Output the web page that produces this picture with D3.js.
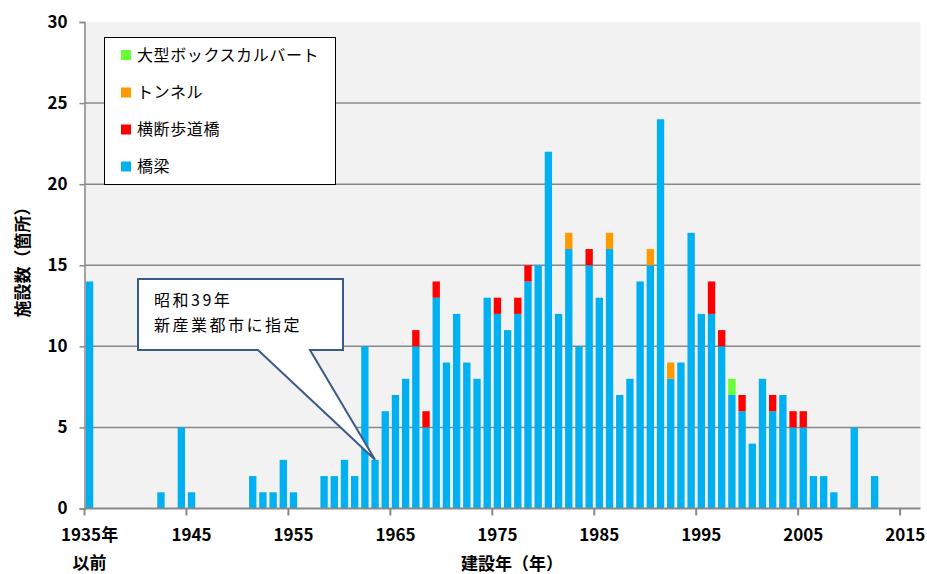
<!DOCTYPE html>
<html>
<head>
<meta charset="utf-8">
<script src="https://cdn.jsdelivr.net/npm/d3@7/dist/d3.min.js"></script>
<style>
  html, body { margin: 0; padding: 0; background: #ffffff; }
  svg { display: block; font-family: "Noto Sans CJK JP", "Noto Sans", sans-serif; }
</style>
</head>
<body>
<svg id="chart" width="927" height="574"></svg>
<script>
// Construction year categories (first one stands for "1935 and earlier")
const years = d3.range(1935, 2017);

// Facilities built per year, by type
const bridges = [
  14, 0, 0, 0, 0, 0, 0, 1, 0, 5,
  1, 0, 0, 0, 0, 0, 2, 1, 1, 3,
  1, 0, 0, 2, 2, 3, 2, 10, 3, 6,
  7, 8, 10, 5, 13, 9, 12, 9, 8, 13,
  12, 11, 12, 14, 15, 22, 12, 16, 10, 15,
  13, 16, 7, 8, 14, 15, 24, 8, 9, 17,
  12, 12, 10, 7, 6, 4, 8, 6, 7, 5,
  5, 2, 2, 1, 0, 5, 0, 2, 0, 0,
  0, 0
];
const footbridges = [
  0, 0, 0, 0, 0, 0, 0, 0, 0, 0,
  0, 0, 0, 0, 0, 0, 0, 0, 0, 0,
  0, 0, 0, 0, 0, 0, 0, 0, 0, 0,
  0, 0, 1, 1, 1, 0, 0, 0, 0, 0,
  1, 0, 1, 1, 0, 0, 0, 0, 0, 1,
  0, 0, 0, 0, 0, 0, 0, 0, 0, 0,
  0, 2, 1, 0, 1, 0, 0, 1, 0, 1,
  1, 0, 0, 0, 0, 0, 0, 0, 0, 0,
  0, 0
];
const tunnels = [
  0, 0, 0, 0, 0, 0, 0, 0, 0, 0,
  0, 0, 0, 0, 0, 0, 0, 0, 0, 0,
  0, 0, 0, 0, 0, 0, 0, 0, 0, 0,
  0, 0, 0, 0, 0, 0, 0, 0, 0, 0,
  0, 0, 0, 0, 0, 0, 0, 1, 0, 0,
  0, 1, 0, 0, 0, 1, 0, 1, 0, 0,
  0, 0, 0, 0, 0, 0, 0, 0, 0, 0,
  0, 0, 0, 0, 0, 0, 0, 0, 0, 0,
  0, 0
];
const culverts = [
  0, 0, 0, 0, 0, 0, 0, 0, 0, 0,
  0, 0, 0, 0, 0, 0, 0, 0, 0, 0,
  0, 0, 0, 0, 0, 0, 0, 0, 0, 0,
  0, 0, 0, 0, 0, 0, 0, 0, 0, 0,
  0, 0, 0, 0, 0, 0, 0, 0, 0, 0,
  0, 0, 0, 0, 0, 0, 0, 0, 0, 0,
  0, 0, 0, 1, 0, 0, 0, 0, 0, 0,
  0, 0, 0, 0, 0, 0, 0, 0, 0, 0,
  0, 0
];

const seriesKeys = ["橋梁", "横断歩道橋", "トンネル", "大型ボックスカルバート"];
const seriesColors = ["#00b0f0", "#ff0000", "#ff9900", "#66ff33"];
const seriesValues = [bridges, footbridges, tunnels, culverts];
const legendOrder = ["大型ボックスカルバート", "トンネル", "横断歩道橋", "橋梁"];

const yTicks = [0, 5, 10, 15, 20, 25, 30];
const xTickYears = [1935, 1945, 1955, 1965, 1975, 1985, 1995, 2005, 2015];

const calloutLines = ["昭和39年", "新産業都市に指定"];
const calloutYear = 1963;

const svg = d3.select("#chart");
const plot = { left: 84.5, right: 920.5, top: 22, bottom: 508.5 };

const x = d3.scaleBand().domain(years).range([plot.left, plot.right]).paddingInner(0.28).paddingOuter(0.14);
const y = d3.scaleLinear().domain([0, 30]).range([plot.bottom, plot.top]);

const rows = years.map((yr, i) => {
  const r = { year: yr };
  seriesKeys.forEach((k, j) => r[k] = seriesValues[j][i]);
  return r;
});
const stacked = d3.stack().keys(seriesKeys)(rows);
const color = d3.scaleOrdinal().domain(seriesKeys).range(seriesColors);

// plot background
svg.append("rect")
  .attr("x", plot.left).attr("y", plot.top)
  .attr("width", plot.right - plot.left).attr("height", plot.bottom - plot.top)
  .attr("fill", "#f2f2f2");

// horizontal gridlines
svg.append("g").selectAll("line")
  .data(yTicks.filter(t => t > 0 && t < 30))
  .join("line")
  .attr("x1", plot.left).attr("x2", plot.right)
  .attr("y1", d => y(d)).attr("y2", d => y(d))
  .attr("stroke", "#888888").attr("stroke-width", 1.5);

// stacked bars
svg.append("g").selectAll("g")
  .data(stacked)
  .join("g")
  .attr("fill", d => color(d.key))
  .selectAll("rect")
  .data(d => d.filter(s => s[1] > s[0]))
  .join("rect")
  .attr("x", d => x(d.data.year))
  .attr("width", x.bandwidth())
  .attr("y", d => y(d[1]))
  .attr("height", d => y(d[0]) - y(d[1]));

// y axis
const yAxis = svg.append("g")
  .attr("transform", `translate(${plot.left},0)`)
  .call(d3.axisLeft(y).tickValues(yTicks).tickSize(5).tickPadding(12).tickFormat(d3.format("d")));
yAxis.select(".domain").attr("stroke", "#888888").attr("stroke-width", 1.5);
yAxis.selectAll(".tick line").attr("stroke", "#888888").attr("stroke-width", 1.5);
yAxis.selectAll(".tick text")
  .attr("font-size", 17).attr("font-weight", "bold").attr("fill", "#000")
  .attr("font-family", "'Noto Sans CJK JP', sans-serif");

// x axis: ticks sit on category boundaries, labels on category centers
const gap = (x.step() - x.bandwidth()) / 2;
const xAxisG = svg.append("g");
xAxisG.append("line")
  .attr("x1", plot.left).attr("x2", plot.right)
  .attr("y1", plot.bottom).attr("y2", plot.bottom)
  .attr("stroke", "#888888").attr("stroke-width", 2);
xAxisG.selectAll("line.tick")
  .data(xTickYears)
  .join("line")
  .attr("class", "tick")
  .attr("x1", d => x(d) - gap)
  .attr("x2", d => x(d) - gap)
  .attr("y1", plot.bottom).attr("y2", plot.bottom + 7)
  .attr("stroke", "#888888").attr("stroke-width", 2);
xAxisG.selectAll("text.tl")
  .data(xTickYears)
  .join("text")
  .attr("class", "tl")
  .attr("x", d => x(d) + x.bandwidth() / 2)
  .attr("y", 541)
  .attr("text-anchor", "middle")
  .attr("font-size", 17).attr("font-weight", "bold")
  .text(d => d === 1935 ? "1935年" : d);
xAxisG.append("text")
  .attr("x", x(1935) + x.bandwidth() / 2)
  .attr("y", 569)
  .attr("text-anchor", "middle")
  .attr("font-size", 17).attr("font-weight", "bold")
  .text("以前");

// axis titles
svg.append("text")
  .attr("x", 512).attr("y", 570)
  .attr("text-anchor", "middle")
  .attr("font-size", 17).attr("font-weight", "bold")
  .text("建設年（年）");
svg.append("text")
  .attr("transform", "translate(29,258) rotate(-90)")
  .attr("text-anchor", "middle")
  .attr("font-size", 17).attr("font-weight", "bold")
  .text("施設数（箇所）");

// legend
const legend = svg.append("g");
legend.append("rect")
  .attr("x", 104.5).attr("y", 37.5).attr("width", 231).attr("height", 147)
  .attr("fill", "#ffffff").attr("stroke", "#000000").attr("stroke-width", 1);
const legendRowY = [55, 92.5, 129.5, 166.5];
const li = legend.selectAll("g.item")
  .data(legendOrder)
  .join("g")
  .attr("class", "item")
  .attr("transform", (d, i) => `translate(121,${legendRowY[i]})`);
li.append("rect")
  .attr("x", 0).attr("y", -5).attr("width", 10).attr("height", 10)
  .attr("fill", d => color(d));
li.append("text")
  .attr("x", 16).attr("y", 0).attr("dy", "0.36em")
  .attr("font-size", 16).attr("fill", "#000")
  .attr("letter-spacing", 0.6)
  .text(d => d);

// callout pointing at the 1963 bar
const tipX = x(calloutYear) + x.bandwidth() / 2;
const tipY = y(bridges[years.indexOf(calloutYear)]);
const box = { x0: 138, x1: 343, y0: 279, y1: 350 };
const callout = svg.append("g");
callout.append("path")
  .attr("d", `M${box.x0},${box.y0} H${box.x1} V${box.y1} H310 L${tipX},${tipY} L258,${box.y1} H${box.x0} Z`)
  .attr("fill", "#ffffff")
  .attr("stroke", "#3a5b88")
  .attr("stroke-width", 2)
  .attr("stroke-linejoin", "miter");
callout.selectAll("text")
  .data(calloutLines)
  .join("text")
  .attr("x", 154)
  .attr("y", (d, i) => 300 + i * 25.5)
  .attr("dy", "0.36em")
  .attr("font-size", 16)
  .attr("letter-spacing", 2.5)
  .attr("fill", "#000")
  .text(d => d);
</script>
</body>
</html>
